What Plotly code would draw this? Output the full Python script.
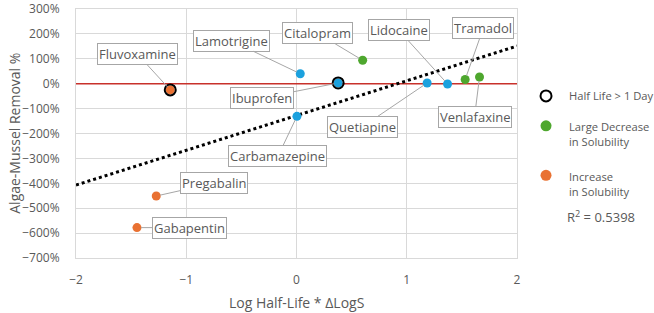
import numpy as np
import plotly.graph_objects as go

# ---- data ----
names = ["Fluvoxamine", "Lamotrigine", "Citalopram", "Ibuprofen", "Carbamazepine",
         "Quetiapine", "Lidocaine", "Tramadol", "Venlafaxine", "Pregabalin", "Gabapentin"]
x_vals = [-1.145, 0.034, 0.60, 0.378, 0.004, 1.185, 1.37, 1.53, 1.66, -1.272, -1.447]
y_vals = [-25, 40, 94, 3, -131, 3, -1, 17, 27, -451, -578]
group = ["inc", "blue", "dec", "blue", "blue", "blue", "blue", "dec", "dec", "inc", "inc"]
half_life_long = ["Fluvoxamine", "Ibuprofen"]
legend_labels = ["Half Life > 1 Day", "Large Decrease<br>in Solubility",
                 "Increase<br>in Solubility"]
r2_text = "R<sup>2</sup> = 0.5398"
x_title = "Log Half-Life * ΔLogS"
y_title = "Algae-Mussel Removal %"

# label offsets (pixels from point to label centre)
label_offsets = {
    "Fluvoxamine": (-33, -36), "Lamotrigine": (-69, -33), "Citalopram": (-45, -27),
    "Lidocaine": (-49, -54), "Tramadol": (18, -51), "Ibuprofen": (-76, 15),
    "Quetiapine": (-65, 44), "Venlafaxine": (-5, 40), "Carbamazepine": (-19, 40),
    "Pregabalin": (58, -13), "Gabapentin": (53, 0),
}

colors = {"blue": "#1BA1DE", "dec": "#4EA72E", "inc": "#E97132"}
FONT = "Open Sans"
TXT = "#595959"

fig = go.Figure()

# zero reference line
fig.add_trace(go.Scatter(x=[-2, 2], y=[0, 0], mode="lines", showlegend=False,
                         line=dict(color="#C8312B", width=1.5), hoverinfo="skip"))

# trendline (least squares over all points)
slope, intercept = np.polyfit(np.array(x_vals), np.array(y_vals), 1)
tx = np.array([-2.0, 2.0])
fig.add_trace(go.Scatter(x=tx, y=slope * tx + intercept, mode="lines",
                         line=dict(color="black", width=3, dash="dot"),
                         showlegend=False, hoverinfo="skip"))

def sub(g):
    idx = [i for i, gg in enumerate(group) if gg == g]
    return [x_vals[i] for i in idx], [y_vals[i] for i in idx], [names[i] for i in idx]

for g in ["blue", "dec", "inc"]:
    gx, gy, gn = sub(g)
    fig.add_trace(go.Scatter(x=gx, y=gy, text=gn, mode="markers", showlegend=False,
                             marker=dict(size=9, color=colors[g])))

hx = [x_vals[names.index(n)] for n in half_life_long]
hy = [y_vals[names.index(n)] for n in half_life_long]
fig.add_trace(go.Scatter(x=hx, y=hy, mode="markers", showlegend=False,
                         marker=dict(size=11, color="rgba(0,0,0,0)",
                                     line=dict(color="black", width=2))))

for n, xv, yv in zip(names, x_vals, y_vals):
    ax, ay = label_offsets[n]
    fig.add_annotation(x=xv, y=yv, text=n, showarrow=True, arrowhead=0,
                       arrowwidth=1, arrowcolor="#A6A6A6", ax=ax, ay=ay,
                       standoff=4,
                       font=dict(family=FONT, size=13, color=TXT),
                       bgcolor="white", bordercolor="#A6A6A6", borderwidth=1,
                       borderpad=1)

# manual legend (markers as pixel-sized shapes, labels as annotations)
leg_marker_x = 1.0658
leg_text_x = 1.114
leg_marker_y = [0.651, 0.531, 0.332]
leg_text_y = [0.651, 0.497, 0.298]
leg_styles = [dict(fill="white", line="black", lw=2, r=5.5),
              dict(fill=colors["dec"], line=colors["dec"], lw=0, r=5.5),
              dict(fill=colors["inc"], line=colors["inc"], lw=0, r=5.5)]
for lab, my, ty, st in zip(legend_labels, leg_marker_y, leg_text_y, leg_styles):
    fig.add_shape(type="circle", xref="paper", yref="paper",
                  xsizemode="pixel", ysizemode="pixel",
                  xanchor=leg_marker_x, yanchor=my,
                  x0=-st["r"], x1=st["r"], y0=-st["r"], y1=st["r"],
                  fillcolor=st["fill"], line=dict(color=st["line"], width=st["lw"]))
    fig.add_annotation(xref="paper", yref="paper", x=leg_text_x, y=ty,
                       xanchor="left", yanchor="middle", align="left",
                       text=lab, showarrow=False,
                       font=dict(family=FONT, size=11.2, color=TXT))

fig.add_annotation(xref="paper", yref="paper", x=1.109, y=0.165, xanchor="left",
                   yanchor="middle", text=r2_text, showarrow=False,
                   font=dict(family=FONT, size=13, color=TXT))

# axis titles
fig.add_annotation(xref="paper", yref="paper", x=0.5, y=-0.18, xanchor="center",
                   yanchor="middle", text=x_title, showarrow=False,
                   font=dict(family=FONT, size=14, color=TXT))
fig.add_annotation(xref="paper", yref="paper", x=-0.14, y=0.5, xanchor="center",
                   yanchor="middle", text=y_title, showarrow=False, textangle=-90,
                   font=dict(family=FONT, size=14, color=TXT))

fig.update_layout(
    width=654, height=313,
    margin=dict(l=76, r=137, t=9, b=55, autoexpand=False),
    paper_bgcolor="white", plot_bgcolor="white",
    font=dict(family=FONT, size=12, color=TXT),
    showlegend=False,
    xaxis=dict(range=[-2, 2], dtick=1, showgrid=True, gridcolor="#D9D9D9",
               zeroline=False, showline=True, linecolor="#D9D9D9", mirror=True,
               ticks="", ticklabelstandoff=11, automargin=False),
    yaxis=dict(range=[-700, 300], dtick=100, ticksuffix="%", showgrid=True,
               gridcolor="#D9D9D9", zeroline=False, showline=True, linecolor="#D9D9D9",
               mirror=True, ticks="", ticklabelstandoff=13, automargin=False,
               ticklabeloverflow="allow"),
)

fig.write_html("out.html", config={"displayModeBar": False},
               post_script="document.body.style.margin='0';")
